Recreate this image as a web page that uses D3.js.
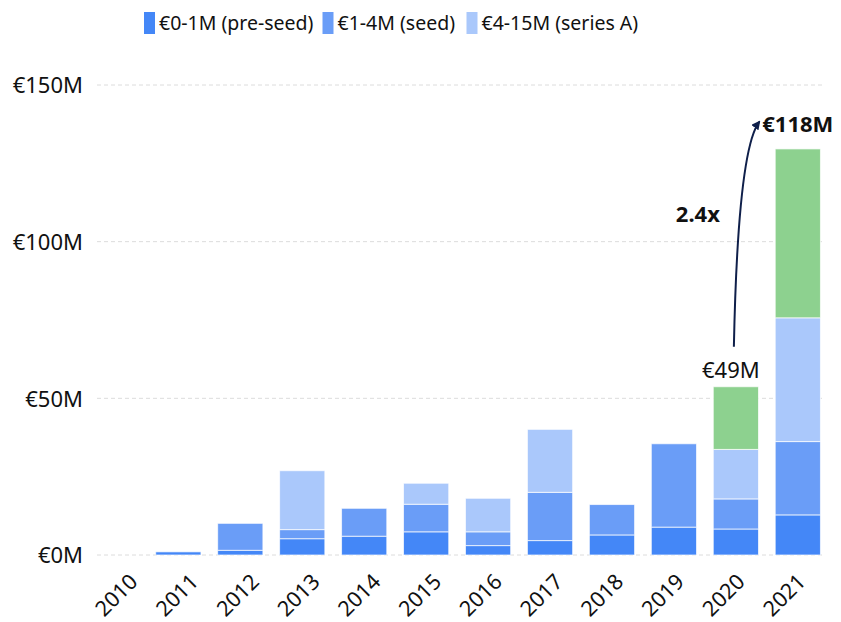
<!DOCTYPE html>
<html>
<head>
<meta charset="utf-8">
<script src="https://cdn.jsdelivr.net/npm/d3@7"></script>
<style>
  html, body { margin: 0; padding: 0; background: #fff; }
  svg { display: block; font-family: "Noto Sans", sans-serif; }
</style>
</head>
<body>
<svg id="chart" width="841" height="622"></svg>
<script>
const years = ["2010","2011","2012","2013","2014","2015","2016","2017","2018","2019","2020","2021"];
const preSeed = [0, 1.0, 1.5, 5.2, 6.0, 7.4, 3.0, 4.6, 6.4, 8.9, 8.3, 12.8];
const seed    = [0, 0, 8.6, 2.9, 8.9, 8.8, 4.4, 15.4, 9.7, 26.6, 9.6, 23.4];
const seriesA = [0, 0, 0, 18.8, 0, 6.7, 10.7, 20.1, 0, 0, 15.8, 39.5];
const other   = [0, 0, 0, 0, 0, 0, 0, 0, 0, 0, 20.0, 53.9];
const seriesNames = ["€0-1M (pre-seed)", "€1-4M (seed)", "€4-15M (series A)"];
const yTicks = [0, 50, 100, 150];
const growthLabel = "2.4x";
const label2020 = "€49M";
const label2021 = "€118M";

const colors = ["#4487f7", "#6a9df7", "#aac8fb", "#8dd18f"];

const svg = d3.select("#chart");

const x = d3.scaleBand().domain(years).range([85.4, 828.8]).paddingInner(0.27).paddingOuter(0.135);
const xLabel = d3.scalePoint().domain(years).range([115.5, 783.5]);
const y = d3.scaleLinear().domain([0, 150]).range([555, 85]);

// gridlines
svg.append("g").selectAll("line").data(yTicks).join("line")
  .attr("x1", 97).attr("x2", 822)
  .attr("y1", d => y(d)).attr("y2", d => y(d))
  .attr("stroke", "#dcdcdc").attr("stroke-width", 1)
  .attr("stroke-dasharray", "4,3");

// y axis labels
const yAxis = d3.axisLeft(y).tickValues(yTicks).tickSize(0).tickPadding(0)
  .tickFormat(d => "€" + d + "M");
const gy = svg.append("g").attr("transform", "translate(83,0)").call(yAxis);
gy.select(".domain").remove();
gy.selectAll("text").attr("font-size", 22).attr("fill", "#111")
  .attr("font-family", "Noto Sans").attr("dy", "0.36em");

// stacked data
const keys = ["preSeed", "seed", "seriesA", "other"];
const table = years.map((yr, i) => ({year: yr, preSeed: preSeed[i], seed: seed[i], seriesA: seriesA[i], other: other[i]}));
const stacked = d3.stack().keys(keys)(table);

svg.append("g").selectAll("g").data(stacked).join("g")
  .attr("fill", (d, i) => colors[i])
  .selectAll("rect").data(d => d.filter(s => s[1] - s[0] > 0)).join("rect")
  .attr("x", d => x(d.data.year))
  .attr("width", x.bandwidth())
  .attr("y", d => y(d[1]))
  .attr("height", d => y(d[0]) - y(d[1]))
  .attr("stroke", "rgba(255,255,255,0.7)")
  .attr("stroke-width", 1);

// x axis labels
const xAxis = d3.axisBottom(xLabel).tickSize(0).tickPadding(0);
const gx = svg.append("g").attr("transform", "translate(0,555)").call(xAxis);
gx.select(".domain").remove();
gx.selectAll("text")
  .attr("font-size", 21.5).attr("fill", "#111").attr("font-family", "Noto Sans")
  .attr("text-anchor", "end").attr("y", 0).attr("dy", 0)
  .attr("transform", "translate(23,28) rotate(-45)");

// legend
const legendItems = [
  {name: seriesNames[0], color: colors[0], x: 144},
  {name: seriesNames[1], color: colors[1], x: 322.5},
  {name: seriesNames[2], color: colors[2], x: 466.5}
];
const lg = svg.append("g").selectAll("g").data(legendItems).join("g")
  .attr("transform", d => `translate(${d.x},0)`);
lg.append("rect").attr("x", 0).attr("y", 12).attr("width", 11).attr("height", 22).attr("fill", d => d.color);
lg.append("text").attr("x", 15).attr("y", 30).attr("font-size", 19.5).attr("fill", "#111")
  .text(d => d.name);

// annotations
const i20 = years.indexOf("2020"), i21 = years.indexOf("2021");
const top20 = preSeed[i20] + seed[i20] + seriesA[i20] + other[i20];
const top21 = preSeed[i21] + seed[i21] + seriesA[i21] + other[i21];
const cx20 = x("2020") + x.bandwidth() / 2;
const cx21 = x("2021") + x.bandwidth() / 2;

svg.append("text").attr("x", cx20 - 5).attr("y", y(top20) - 9)
  .attr("text-anchor", "middle").attr("font-size", 22).attr("fill", "#111")
  .text(label2020);
svg.append("text").attr("x", cx21).attr("y", y(top21) - 17)
  .attr("text-anchor", "middle").attr("font-size", 22).attr("font-weight", "bold").attr("fill", "#111")
  .text(label2021);
svg.append("text").attr("x", cx20 - 38).attr("y", 221.5)
  .attr("text-anchor", "middle").attr("font-size", 22).attr("font-weight", "bold").attr("fill", "#111")
  .text(growthLabel);

const defs = svg.append("defs");
defs.append("marker").attr("id", "arrow").attr("viewBox", "0 0 10 10")
  .attr("refX", 8).attr("refY", 5).attr("markerWidth", 9).attr("markerHeight", 9)
  .attr("markerUnits", "userSpaceOnUse").attr("orient", "auto")
  .append("path").attr("d", "M0,0 L10,5 L0,10 Z").attr("fill", "#0f1f4a");

const p0 = [cx20 - 2, y(top20) - 40];
const p2 = [x("2021") - 16, y(top21) - 27];
const p1 = [cx20 + 2, 150];
const path = d3.path();
path.moveTo(p0[0], p0[1]);
path.quadraticCurveTo(p1[0], p1[1], p2[0], p2[1]);
svg.append("path").attr("d", path.toString())
  .attr("fill", "none").attr("stroke", "#0f1f4a").attr("stroke-width", 2)
  .attr("marker-end", "url(#arrow)");
</script>
</body>
</html>
